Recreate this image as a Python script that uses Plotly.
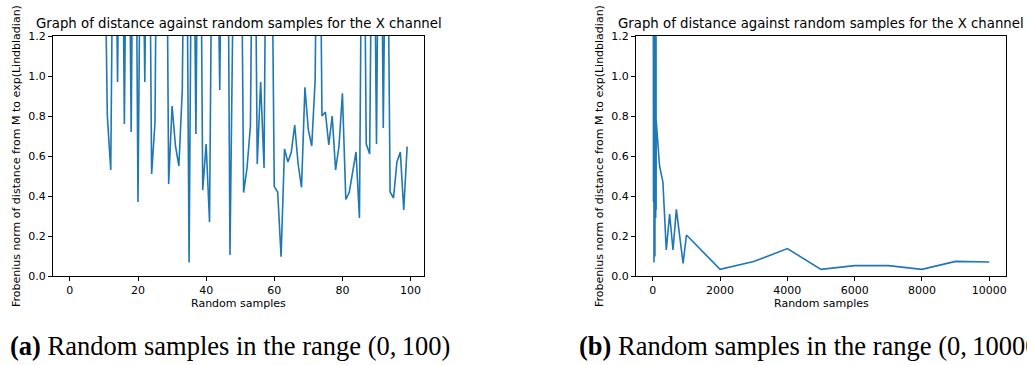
import plotly.graph_objects as go

# ---- data ----
samples_a = list(range(100))
distance_a = [3.2, 2.6, 4.1, 2.2, 3.5, 2.8, 1.9, 3.0, 2.4, 2.7,
              2.0, 0.80, 0.53, 2.5, 0.97, 2.8, 0.76, 2.6, 0.72, 2.9,
              0.37, 2.4, 0.97, 2.7, 0.51, 0.77, 3.1, 2.3, 2.9, 0.46,
              0.85, 0.65, 0.55, 0.93, 2.6, 0.068, 2.5, 0.71, 2.8, 0.43,
              0.66, 0.27, 2.4, 2.2, 0.93, 2.6, 2.9, 0.105, 2.7, 3.0,
              2.5, 0.417, 0.54, 0.75, 2.6, 0.56, 0.97, 0.54, 2.8, 2.3,
              0.447, 0.42, 0.097, 0.635, 0.57, 0.62, 0.755, 0.56, 0.443, 0.943,
              0.73, 0.65, 0.98, 2.7, 0.80, 0.82, 0.655, 0.80, 0.53, 0.65,
              0.913, 0.383, 0.417, 0.52, 0.62, 0.29, 2.6, 0.66, 0.61, 2.5,
              0.66, 2.7, 0.74, 2.4, 0.42, 0.39, 0.57, 0.62, 0.33, 0.647]

extra_samples = [100, 200, 300, 400, 500, 600, 700, 800, 900, 1000,
                 2000, 3000, 4000, 5000, 6000, 7000, 8000, 9000, 10000]
extra_distance = [0.78, 0.55, 0.47, 0.13, 0.31, 0.13, 0.333, 0.198, 0.063, 0.205,
                  0.033, 0.072, 0.137, 0.033, 0.052, 0.052, 0.033, 0.073, 0.070]

samples_b = samples_a + extra_samples
distance_b = distance_a + extra_distance

y_ticks = [0.0, 0.2, 0.4, 0.6, 0.8, 1.0, 1.2]
x_ticks_a = [0, 20, 40, 60, 80, 100]
x_ticks_b = [0, 2000, 4000, 6000, 8000, 10000]

title_text = "Graph of distance against random samples for the X channel"
ylabel_text = "Frobenius norm of distance from M to exp(Lindbladian)"
xlabel_text = "Random samples"
caption_a = "<b>(a)</b> Random samples in the range (0,\u2009100)"
caption_b = "<b>(b)</b> Random samples in the range (0,\u200910000)"

# ---- layout geometry (pixels) ----
W, H = 1027, 365
def fx(px):
    return px / W
def fy(py):
    return 1 - py / H

ax_a = (53, 424)
ax_b = (636, 1006)
ax_top, ax_bot = 36, 276

line_color = "#1f77b4"
font_sans = "DejaVu Sans"

fig = go.Figure()
fig.add_trace(go.Scatter(x=samples_a, y=distance_a, mode="lines",
                         line=dict(color=line_color, width=1.6),
                         xaxis="x", yaxis="y", showlegend=False))
fig.add_trace(go.Scatter(x=samples_b, y=distance_b, mode="lines",
                         line=dict(color=line_color, width=1.6),
                         xaxis="x2", yaxis="y2", showlegend=False))

axis_common = dict(showline=True, linecolor="#000000", linewidth=1, mirror=True,
                   ticks="outside", ticklen=4, tickwidth=1, tickcolor="#000000",
                   showgrid=False, zeroline=False, automargin=False,
                   tickfont=dict(family=font_sans, size=11, color="#000000"))

fig.update_layout(
    width=W, height=H,
    margin=dict(l=0, r=0, t=0, b=0, pad=0, autoexpand=False),
    paper_bgcolor="white", plot_bgcolor="white",
    xaxis=dict(domain=[fx(ax_a[0]), fx(ax_a[1])], range=[-4.95, 103.95],
               tickvals=x_ticks_a, anchor="y", **axis_common),
    yaxis=dict(domain=[fy(ax_bot), fy(ax_top)], range=[0, 1.2],
               tickvals=y_ticks, tickformat=".1f", anchor="x", **axis_common),
    xaxis2=dict(domain=[fx(ax_b[0]), fx(ax_b[1])], range=[-500, 10500],
                tickvals=x_ticks_b, tickformat="d", anchor="y2", **axis_common),
    yaxis2=dict(domain=[fy(ax_bot), fy(ax_top)], range=[0, 1.2],
                tickvals=y_ticks, tickformat=".1f", anchor="x2", **axis_common),
)

annotations = []
for (l, r) in (ax_a, ax_b):
    cx = (l + r) / 2
    annotations.append(dict(text=title_text, x=fx(cx), y=fy(24), xref="paper", yref="paper",
                            xanchor="center", yanchor="middle", showarrow=False,
                            font=dict(family=font_sans, size=13.3, color="#000000")))
    annotations.append(dict(text=xlabel_text, x=fx(cx), y=fy(303), xref="paper", yref="paper",
                            xanchor="center", yanchor="middle", showarrow=False,
                            font=dict(family=font_sans, size=11, color="#000000")))
    annotations.append(dict(text=ylabel_text, x=fx(l - 37), y=fy((ax_top + ax_bot) / 2),
                            xref="paper", yref="paper", textangle=-90,
                            xanchor="center", yanchor="middle", showarrow=False,
                            font=dict(family=font_sans, size=11, color="#000000")))

annotations.append(dict(text=caption_a, x=fx(8), y=fy(346), xref="paper", yref="paper",
                        xanchor="left", yanchor="middle", showarrow=False,
                        font=dict(family="Liberation Serif", size=26.5, color="#000000")))
annotations.append(dict(text=caption_b, x=fx(577), y=fy(346), xref="paper", yref="paper",
                        xanchor="left", yanchor="middle", showarrow=False,
                        font=dict(family="Liberation Serif", size=26.5, color="#000000")))
fig.update_layout(annotations=annotations)

fig.write_html("out.html",
               config={"displayModeBar": False},
               post_script="document.body.style.margin='0';document.body.style.overflow='hidden';")
